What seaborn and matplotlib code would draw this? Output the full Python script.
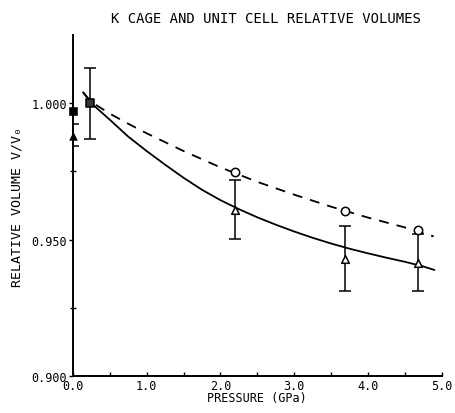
import matplotlib
matplotlib.use("Agg")
import matplotlib.pyplot as plt
import seaborn as sns
import pandas as pd
import numpy as np

# ---- data ----
# fitted curves
solid_p = [0.14, 0.25, 0.5, 0.75, 1.0, 1.25, 1.5, 1.75, 2.0, 2.25, 2.5, 2.75,
           3.0, 3.25, 3.5, 3.75, 4.0, 4.25, 4.5, 4.75, 4.9]
solid_v = [1.004, 1.000, 0.9940, 0.9878, 0.9825, 0.9775, 0.9727, 0.9683, 0.9645,
           0.9612, 0.9582, 0.9555, 0.9530, 0.9507, 0.9486, 0.9467, 0.9450,
           0.9434, 0.9419, 0.9402, 0.9389]
dash_p = [0.14, 0.25, 0.5, 0.75, 1.0, 1.5, 2.0, 2.5, 3.0, 3.5, 4.0, 4.5, 4.89]
dash_v = [1.004, 1.0005, 0.9962, 0.9925, 0.9890, 0.9825, 0.9765, 0.9712,
          0.9665, 0.9621, 0.9581, 0.9545, 0.9512]

# unit cell (open circles)
circ_p = [2.20, 3.69, 4.68]
circ_v = [0.9749, 0.9604, 0.9536]
# K cage (open triangles) with error bars
tri_p = [2.20, 3.69, 4.68]
tri_v = [0.9608, 0.9429, 0.9413]
tri_lo = [0.9503, 0.9311, 0.9311]
tri_hi = [0.9718, 0.9552, 0.9520]
# reference point (square) with error bar
sq_p = [0.23]
sq_v = [1.000]
sq_lo = [0.987]
sq_hi = [1.013]
# ambient points on the axis (filled)
fsq_p = [0.0]
fsq_v = [0.997]
ftri_p = [0.0]
ftri_v = [0.988]
ftri_lo = [0.9845]
ftri_hi = [0.9925]

title = "K CAGE AND UNIT CELL RELATIVE VOLUMES"
xlabel = "PRESSURE (GPa)"
ylabel = "RELATIVE VOLUME V/V₀"
xticks = [0.0, 1.0, 2.0, 3.0, 4.0, 5.0]
xticklabels = ["0.0", "1.0", "2.0", "3.0", "4.0", "5.0"]
yticks = [0.900, 0.950, 1.000]
yticklabels = ["0.900", "0.950", "1.000"]

# ---- plotting ----
sns.set_style("ticks")
mono = ["DejaVu Sans Mono", "DejaVu Sans"]
plt.rcParams["font.family"] = mono
plt.rcParams["text.color"] = "black"
plt.rcParams["axes.labelcolor"] = "black"
plt.rcParams["xtick.color"] = "black"
plt.rcParams["ytick.color"] = "black"

fig = plt.figure(figsize=(4.55, 4.14), dpi=100)
ax = fig.add_axes([0.160, 0.089, 0.811, 0.824])

sns.lineplot(x=solid_p, y=solid_v, ax=ax, color="black", lw=1.3, sort=False)
dash_df = pd.DataFrame({"p": dash_p, "v": dash_v})
sns.lineplot(data=dash_df, x="p", y="v", ax=ax, color="black", lw=1.3,
             linestyle=(0, (5.5, 4.5)), sort=False)

def ebar(px, v, lo, hi):
    v = np.array(v); lo = np.array(lo); hi = np.array(hi)
    ax.errorbar(px, v, yerr=[v - lo, hi - v], fmt="none", ecolor="black",
                elinewidth=1.1, capsize=4, capthick=1.1, zorder=2)

ebar(tri_p, tri_v, tri_lo, tri_hi)
ebar(sq_p, sq_v, sq_lo, sq_hi)
ebar(ftri_p, ftri_v, ftri_lo, ftri_hi)

sns.scatterplot(x=circ_p, y=circ_v, ax=ax, marker="o", s=36,
                facecolor="white", edgecolor="black", linewidth=1.1, zorder=4)
sns.scatterplot(x=tri_p, y=tri_v, ax=ax, marker="^", s=30,
                facecolor="white", edgecolor="black", linewidth=1.1, zorder=4)
sns.scatterplot(x=sq_p, y=sq_v, ax=ax, marker="s", s=28,
                facecolor="#333333", edgecolor="black", linewidth=1.1, zorder=4)
sns.scatterplot(x=fsq_p, y=fsq_v, ax=ax, marker="s", s=28,
                facecolor="black", edgecolor="black", zorder=5, clip_on=False)
sns.scatterplot(x=ftri_p, y=ftri_v, ax=ax, marker="^", s=30,
                facecolor="black", edgecolor="black", zorder=5, clip_on=False)

ax.set_xlim(0.0, 5.0)
ax.set_ylim(0.900, 1.025)
ax.set_xticks(xticks)
ax.set_xticklabels(xticklabels, fontsize=8.5)
ax.set_yticks(yticks)
ax.set_yticklabels(yticklabels, fontsize=8.5)
ax.set_xticks([0.5, 1.5, 2.5, 3.5, 4.5], minor=True)
ax.set_yticks([0.925, 0.975], minor=True)
ax.tick_params(axis="x", which="both", direction="in", length=3, width=1,
               pad=2, colors="black")
ax.tick_params(axis="y", which="major", direction="out", length=3, width=1,
               pad=1, colors="black")
ax.tick_params(axis="y", which="minor", direction="inout", length=5, width=1)

ax.set_xlabel(xlabel, fontsize=8.5, labelpad=-1)
ax.set_ylabel(ylabel, fontsize=9.5, labelpad=6)
fig.text(0.585, 0.955, title, ha="center", va="center", fontsize=10)

sns.despine(ax=ax)
for s in ["left", "bottom"]:
    ax.spines[s].set_linewidth(1.4)
    ax.spines[s].set_color("black")
ax.legend_ = None

fig.savefig("out.png", dpi=100)
